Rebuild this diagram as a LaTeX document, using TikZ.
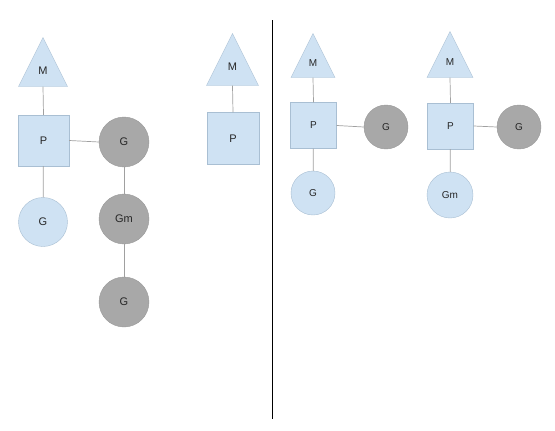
\documentclass[tikz,border=0pt]{standalone}
\usepackage{fontspec}
\setmainfont{Liberation Sans}
\usetikzlibrary{shapes.geometric}
\definecolor{lblue}{HTML}{CFE2F3}
\definecolor{lbord}{HTML}{A9BFD3}
\definecolor{gfill}{HTML}{A8A8A8}
\definecolor{gbord}{HTML}{999999}
\definecolor{lin}{HTML}{A0A0A0}
\begin{document}
\begin{tikzpicture}[x=1pt,y=-1pt,
  every node/.style={font=\fontsize{11}{12}\selectfont, text=black!85, inner sep=0pt},
  tri/.style={draw=lbord, fill=lblue, isosceles triangle, isosceles triangle stretches,
    shape border rotate=90, minimum width=#1, minimum height=#1, anchor=apex},
  box/.style={draw=lbord, fill=lblue, rectangle, minimum size=#1},
  lg/.style={draw=lbord, fill=lblue, circle, minimum size=#1},
  dg/.style={draw=gbord, fill=gfill, circle, minimum size=#1},
  con/.style={draw=lin, line width=0.7pt}]
\useasboundingbox (0,0) rectangle (555,431);
% left group
\node[tri=49pt] (M1) at (43,37) {};
\node at (43,71) {M};
\node[box=51pt] (P1) at (43.5,140.5) {P};
\node[lg=49pt] (G1) at (43,222) {G};
\node[dg=50pt] (G2) at (124,142) {G};
\node[dg=50pt] (Gm1) at (124,219) {Gm};
\node[dg=50pt] (G3) at (124,302) {G};
\draw[con] (M1.lower side) -- (P1.north);
\draw[con] (P1) -- (G1);
\draw[con] (P1.east) -- (G2.west);
\draw[con] (G2) -- (Gm1);
\draw[con] (Gm1) -- (G3);
% middle group
\node[tri=52pt] (M2) at (232.5,33) {};
\node at (232.5,67) {M};
\node[box=52pt] (P2) at (233,138.5) {P};
\draw[con] (M2.lower side) -- (P2.north);
% divider
\coordinate (dt) at (272,20);
\coordinate (db) at (272,419);
\draw[line width=1pt] (dt) -- (db);
% right group 1
\begin{scope}[every node/.append style={font=\fontsize{10}{11}\selectfont}]
\node[tri=44pt] (M3) at (313,33) {};
\node at (313,63) {M};
\node[box=46pt] (P3) at (313.5,125.5) {P};
\node[dg=44pt] (G4) at (386,127) {G};
\node[lg=44pt] (G5) at (313,193) {G};
\draw[con] (M3.lower side) -- (P3.north);
\draw[con] (P3.east) -- (G4.west);
\draw[con] (P3) -- (G5);
% right group 2
\node[tri=46pt] (M4) at (450,31) {};
\node at (450,62) {M};
\node[box=46pt] (P4) at (450.5,126) {P};
\node[dg=44pt] (G6) at (519,127) {G};
\node[lg=46pt] (Gm2) at (450,195) {Gm};
\draw[con] (M4.lower side) -- (P4.north);
\draw[con] (P4.east) -- (G6.west);
\draw[con] (P4) -- (Gm2);
\end{scope}
\end{tikzpicture}
\end{document}
